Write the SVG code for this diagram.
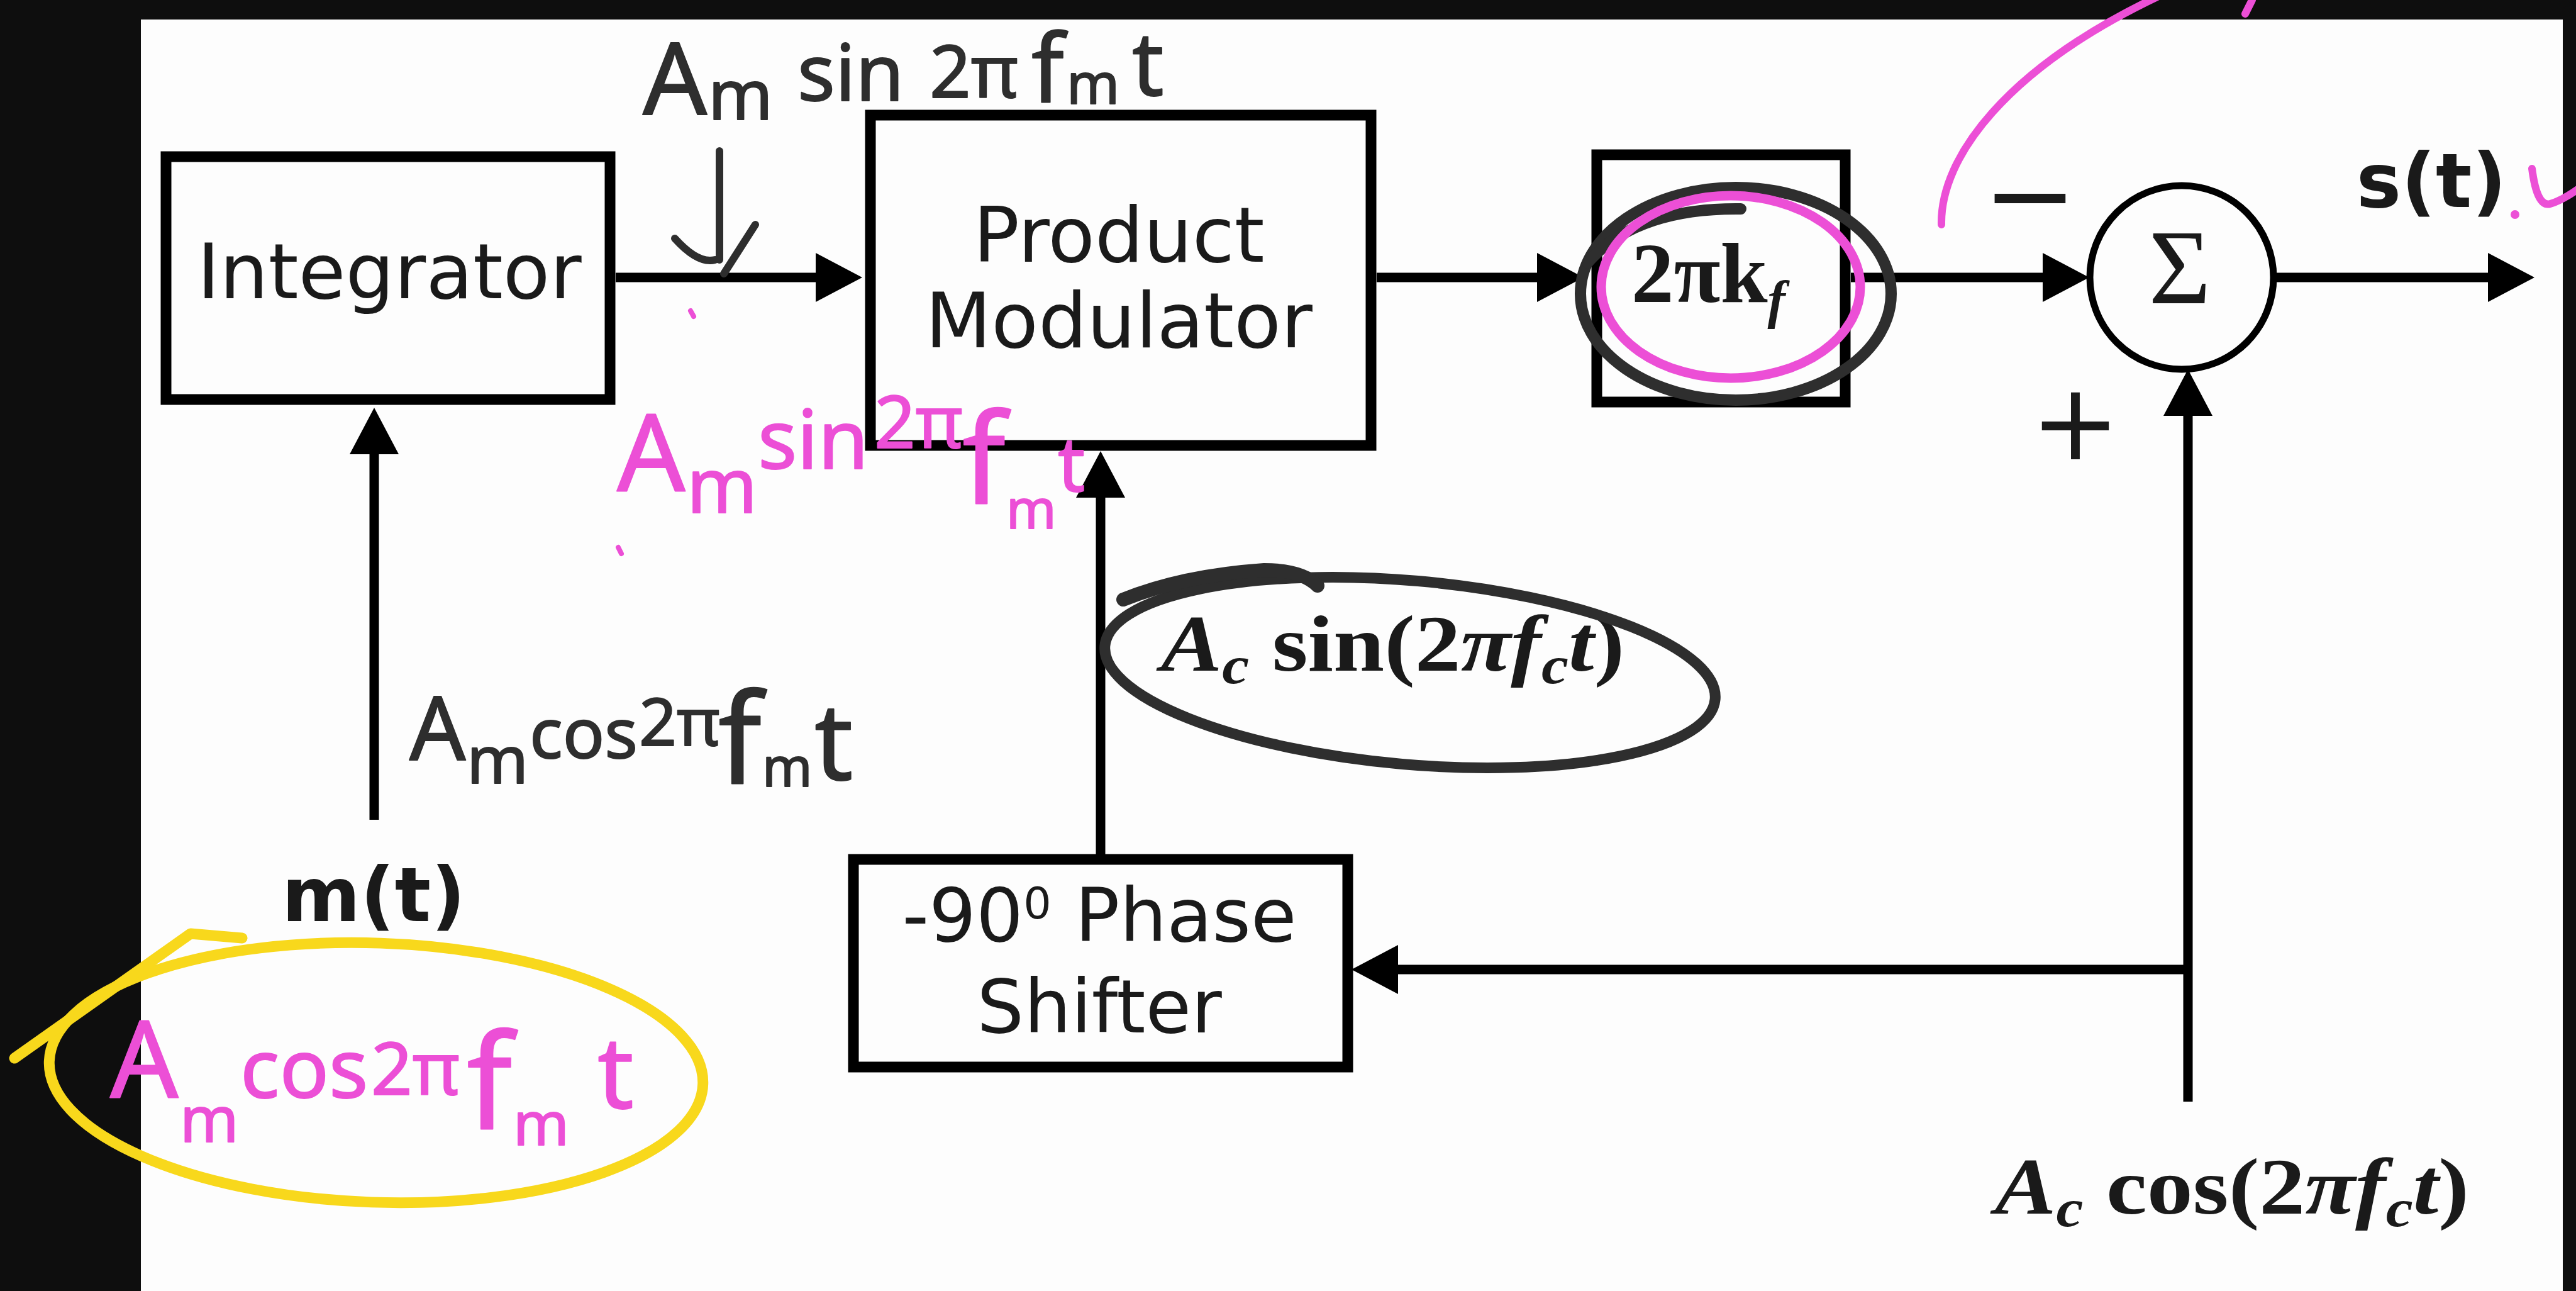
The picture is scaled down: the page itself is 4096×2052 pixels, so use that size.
<svg xmlns="http://www.w3.org/2000/svg" width="4096" height="2052" viewBox="0 0 4096 2052">
  <defs>
    <marker id="ah" markerUnits="userSpaceOnUse" markerWidth="74" markerHeight="78" viewBox="0 0 74 78" refX="54" refY="39" orient="auto">
      <path d="M0,0 L74,39 L0,78 z" fill="#000"/>
    </marker>
    <style>
      .box { fill: none; stroke: #000; stroke-width: 17; }
      .wire { fill: none; stroke: #000; stroke-width: 15; marker-end: url(#ah); }
      .lbl { font-family: "DejaVu Sans", Verdana, sans-serif; fill: #1a1a1a; }
      .bold { font-family: "DejaVu Sans", Verdana, sans-serif; font-weight: bold; fill: #1a1a1a; }
      .math { font-family: "Liberation Serif", "Times New Roman", serif; font-weight: bold; fill: #1a1a1a; }
      .hand { font-family: "Noto Sans", sans-serif; font-weight: 400; stroke-linejoin: round; stroke-width: 2; }
      .ink { fill: #2e2e2e; stroke: #2e2e2e; }
      .pink { fill: #ec4fd6; stroke: #ec4fd6; }
      .pen { fill: none; stroke-linecap: round; stroke-linejoin: round; }
    </style>
  </defs>

  <!-- page and dark frame -->
  <rect x="0" y="0" width="4096" height="2052" fill="#0e0e0e"/>
  <rect x="224" y="31" width="3851" height="2021" fill="#fdfdfd"/>

  <!-- connectors -->
  <g id="connectors">
    <path class="wire" d="M595 1303 V668"/>
    <path class="wire" d="M979 441 H1351"/>
    <path class="wire" d="M2189 441 H2498"/>
    <path class="wire" d="M2943 441 H3302"/>
    <path class="wire" d="M3615 441 H4010"/>
    <path class="wire" d="M1750 1358 V737"/>
    <path class="wire" d="M3479 1751 V607"/>
    <path class="wire" d="M3479 1541 H2169"/>
  </g>

  <!-- blocks -->
  <g id="integrator">
    <rect class="box" x="264" y="249" width="706" height="386"/>
    <text class="lbl" x="619" y="474" font-size="122" text-anchor="middle">Integrator</text>
  </g>

  <g id="product-modulator">
    <rect class="box" x="1384" y="183" width="796" height="525"/>
    <text class="lbl" x="1779" y="416" font-size="122" text-anchor="middle">Product</text>
    <text class="lbl" x="1779" y="552" font-size="122" text-anchor="middle">Modulator</text>
  </g>

  <g id="gain">
    <rect class="box" x="2539" y="246" width="395" height="393"/>
    <text class="math" x="2594" y="480" font-size="135">2πk<tspan font-size="85" font-style="italic" dy="25">f</tspan></text>
  </g>

  <g id="summer">
    <circle cx="3469" cy="441" r="146" fill="none" stroke="#000" stroke-width="11"/>
    <text x="3466" y="482" font-family="Liberation Serif, serif" font-size="170" text-anchor="middle" fill="#1a1a1a">Σ</text>
    <text x="3228" y="372" font-family="DejaVu Sans, sans-serif" font-size="180" text-anchor="middle" fill="#1a1a1a">−</text>
    <text x="3300" y="730" font-family="DejaVu Sans, sans-serif" font-size="170" text-anchor="middle" fill="#1a1a1a">+</text>
  </g>

  <g id="phase-shifter">
    <rect class="box" x="1357" y="1366" width="786" height="330"/>
    <text class="lbl" x="1748" y="1496" font-size="118" text-anchor="middle">-90<tspan font-size="70" dy="-36">0</tspan><tspan dy="36"> Phase</tspan></text>
    <text class="lbl" x="1748" y="1641" font-size="118" text-anchor="middle">Shifter</text>
  </g>

  <!-- signal labels -->
  <g id="labels">
    <text class="bold" x="3866" y="329" font-size="120" text-anchor="middle">s(t)</text>
    <text class="bold" x="594" y="1464" font-size="120" text-anchor="middle">m(t)</text>
    <text class="math" x="1846" y="1066" font-size="128" textLength="737" lengthAdjust="spacingAndGlyphs"><tspan font-style="italic">A</tspan><tspan font-size="85" font-style="italic" dy="20">c</tspan><tspan dy="-20"> sin(2</tspan><tspan font-style="italic">πf</tspan><tspan font-size="85" font-style="italic" dy="20">c</tspan><tspan font-style="italic" dy="-20">t</tspan>)</text>
    <text class="math" x="3172" y="1929" font-size="128" textLength="754" lengthAdjust="spacingAndGlyphs"><tspan font-style="italic">A</tspan><tspan font-size="85" font-style="italic" dy="20">c</tspan><tspan dy="-20"> cos(2</tspan><tspan font-style="italic">πf</tspan><tspan font-size="85" font-style="italic" dy="20">c</tspan><tspan font-style="italic" dy="-20">t</tspan>)</text>
  </g>

  <!-- pen notes -->
  <g id="notes">
    <!-- dark pen -->
    <text class="hand ink">
      <tspan x="1022" y="182" font-size="160">A</tspan>
      <tspan x="1126" y="190" font-size="110">m</tspan>
      <tspan x="1268" y="160" font-size="125">sin</tspan>
      <tspan x="1478" y="155" font-size="115">2π</tspan>
      <tspan x="1640" y="162" font-size="150">f</tspan>
      <tspan x="1696" y="165" font-size="90">m</tspan>
      <tspan x="1800" y="152" font-size="140">t</tspan>
    </text>
    <path class="pen" stroke="#2e2e2e" stroke-width="12" d="M1144 240 V413 M1073 379 Q1110 420 1137 413 M1201 357 L1151 435"/>

    <text class="hand ink">
      <tspan x="651" y="1208" font-size="140">A</tspan>
      <tspan x="742" y="1245" font-size="105">m</tspan>
      <tspan x="842" y="1205" font-size="110">cos</tspan>
      <tspan x="1016" y="1185" font-size="105">2π</tspan>
      <tspan x="1142" y="1245" font-size="200">f</tspan>
      <tspan x="1212" y="1250" font-size="85">m</tspan>
      <tspan x="1295" y="1239" font-size="170">t</tspan>
    </text>

    <ellipse cx="2242" cy="1069" rx="487" ry="146" transform="rotate(5 2242 1069)" fill="none" stroke="#2e2e2e" stroke-width="17"/>
    <path class="pen" stroke="#2e2e2e" stroke-width="22" d="M1786 953 Q1880 915 2010 906 Q2070 906 2095 931"/>

    <ellipse cx="2760" cy="467" rx="247" ry="169" fill="none" stroke="#2e2e2e" stroke-width="18"/>
    <path class="pen" stroke="#2e2e2e" stroke-width="18" d="M2524 418 Q2600 330 2768 332"/>

    <!-- pink pen -->
    <text class="hand pink">
      <tspan x="981" y="781" font-size="170">A</tspan>
      <tspan x="1092" y="815" font-size="120">m</tspan>
      <tspan x="1205" y="745" font-size="130">sin</tspan>
      <tspan x="1390" y="712" font-size="115">2π</tspan>
      <tspan x="1530" y="800" font-size="200">f</tspan>
      <tspan x="1600" y="840" font-size="85">m</tspan>
      <tspan x="1682" y="781" font-size="120">t</tspan>
    </text>
    <path class="pen" stroke="#ec4fd6" stroke-width="8" d="M1098 494 L1103 503 M983 870 L988 880"/>

    <ellipse cx="2752" cy="456" rx="206" ry="145" fill="none" stroke="#ec4fd6" stroke-width="15"/>

    <path class="pen" stroke="#ec4fd6" stroke-width="12" d="M3087 357 C3085 250 3190 110 3430 -5"/>
    <path class="pen" stroke="#ec4fd6" stroke-width="12" d="M3581 0 L3570 22"/>
    <circle cx="3999" cy="341" r="7" fill="#ec4fd6"/>
    <path class="pen" stroke="#ec4fd6" stroke-width="12" d="M4026 268 Q4034 330 4055 324 Q4075 318 4100 300"/>

    <text class="hand pink">
      <tspan x="175" y="1745" font-size="170">A</tspan>
      <tspan x="286" y="1815" font-size="100">m</tspan>
      <tspan x="382" y="1745" font-size="130">cos</tspan>
      <tspan x="590" y="1740" font-size="115">2π</tspan>
      <tspan x="742" y="1795" font-size="210">f</tspan>
      <tspan x="816" y="1820" font-size="95">m</tspan>
      <tspan x="950" y="1761" font-size="160">t</tspan>
    </text>

    <!-- yellow highlighter -->
    <ellipse cx="598" cy="1705" rx="520" ry="206" transform="rotate(2 598 1705)" fill="none" stroke="#f8d81c" stroke-width="17"/>
    <path class="pen" stroke="#f8d81c" stroke-width="17" d="M385 1491 L303 1484 L23 1682"/>
  </g>
</svg>
